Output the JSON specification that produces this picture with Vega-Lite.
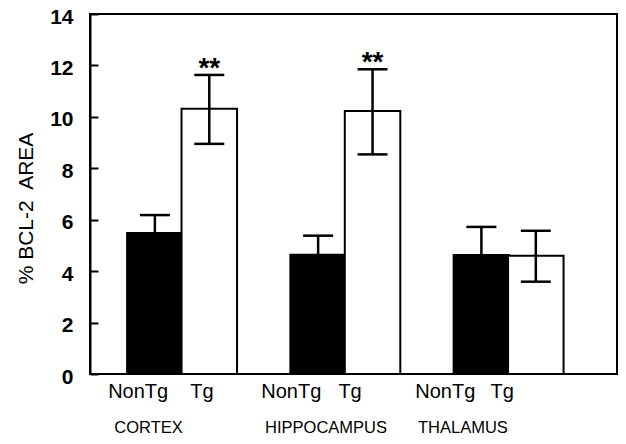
{
  "$schema": "https://vega.github.io/schema/vega-lite/v6.json",
  "width": 527,
  "height": 360,
  "autosize": "none",
  "padding": {"left": 90, "top": 14, "right": 9, "bottom": 70},
  "config": {
    "font": "Liberation Sans",
    "view": {"stroke": "black", "strokeWidth": 2}
  },
  "datasets": {
    "bars": [
      {"region": "CORTEX", "group": "NonTg", "pos": 1.1, "mean": 5.48, "lo": 4.78, "hi": 6.18, "sig": ""},
      {"region": "CORTEX", "group": "Tg", "pos": 2.1, "mean": 10.32, "lo": 8.95, "hi": 11.63, "sig": "**"},
      {"region": "HIPPOCAMPUS", "group": "NonTg", "pos": 4.1, "mean": 4.64, "lo": 3.9, "hi": 5.38, "sig": ""},
      {"region": "HIPPOCAMPUS", "group": "Tg", "pos": 5.1, "mean": 10.23, "lo": 8.54, "hi": 11.85, "sig": "**"},
      {"region": "THALAMUS", "group": "NonTg", "pos": 7.1, "mean": 4.63, "lo": 3.54, "hi": 5.72, "sig": ""},
      {"region": "THALAMUS", "group": "Tg", "pos": 8.1, "mean": 4.6, "lo": 3.59, "hi": 5.57, "sig": ""}
    ],
    "ticklabels": [
      {"label": "NonTg", "pos": 0.793},
      {"label": "Tg", "pos": 1.965},
      {"label": "NonTg", "pos": 3.606},
      {"label": "Tg", "pos": 4.687},
      {"label": "NonTg", "pos": 6.436},
      {"label": "Tg", "pos": 7.481}
    ],
    "regions": [
      {"label": "CORTEX", "pos": 0.983},
      {"label": "HIPPOCAMPUS", "pos": 4.246},
      {"label": "THALAMUS", "pos": 6.76}
    ]
  },
  "layer": [
    {
      "data": {"name": "bars"},
      "mark": {"type": "bar", "width": 55.5, "stroke": "black", "strokeWidth": 2},
      "encoding": {
        "x": {"field": "pos", "type": "quantitative", "scale": {"domain": [0, 9.5], "nice": false, "zero": false}, "axis": null},
        "y": {"field": "mean", "type": "quantitative",
          "scale": {"domain": [0, 14], "nice": false},
          "axis": {
            "values": [0, 2, 4, 6, 8, 10, 12, 14],
            "grid": false,
            "tickSize": -8,
            "tickWidth": 2,
            "tickColor": "black",
            "domainColor": "black",
            "domainWidth": 2,
            "labelFont": "Liberation Sans",
            "labelFontSize": 21,
            "labelFontWeight": "bold",
            "labelColor": "black",
            "labelPadding": 25,
            "labelOffset": 3,
            "title": "% BCL-2\u00a0 AREA",
            "titleFont": "Liberation Sans",
            "titleFontSize": 21,
            "titleFontWeight": "normal",
            "titleColor": "black",
            "titleX": -64,
            "titleY": 194,
            "titleAngle": -90,
            "titleAlign": "center",
            "titleBaseline": "middle"
          }
        },
        "fill": {"field": "group", "type": "nominal", "scale": {"domain": ["NonTg", "Tg"], "range": ["black", "white"]}, "legend": null}
      }
    },
    {
      "data": {"name": "bars"},
      "mark": {"type": "rule", "color": "black", "strokeWidth": 2.5},
      "encoding": {
        "x": {"field": "pos", "type": "quantitative"},
        "y": {"field": "lo", "type": "quantitative"},
        "y2": {"field": "hi"}
      }
    },
    {
      "data": {"name": "bars"},
      "mark": {"type": "tick", "orient": "horizontal", "size": 30, "thickness": 2.5, "color": "black", "opacity": 1},
      "encoding": {
        "x": {"field": "pos", "type": "quantitative"},
        "y": {"field": "hi", "type": "quantitative"}
      }
    },
    {
      "data": {"name": "bars"},
      "mark": {"type": "tick", "orient": "horizontal", "size": 30, "thickness": 2.5, "color": "black", "opacity": 1},
      "encoding": {
        "x": {"field": "pos", "type": "quantitative"},
        "y": {"field": "lo", "type": "quantitative"}
      }
    },
    {
      "data": {"name": "bars"},
      "mark": {"type": "text", "fontSize": 28, "fontWeight": "bold", "baseline": "alphabetic", "dy": 2, "color": "black"},
      "encoding": {
        "x": {"field": "pos", "type": "quantitative"},
        "y": {"field": "hi", "type": "quantitative"},
        "text": {"field": "sig"}
      }
    },
    {
      "data": {"name": "ticklabels"},
      "mark": {"type": "text", "fontSize": 20, "baseline": "middle", "align": "center", "color": "black"},
      "encoding": {
        "x": {"field": "pos", "type": "quantitative"},
        "y": {"datum": -0.7},
        "text": {"field": "label"}
      }
    },
    {
      "data": {"name": "regions"},
      "mark": {"type": "text", "fontSize": 16.5, "baseline": "middle", "align": "center", "color": "black"},
      "encoding": {
        "x": {"field": "pos", "type": "quantitative"},
        "y": {"datum": -2.1},
        "text": {"field": "label"}
      }
    }
  ]
}
